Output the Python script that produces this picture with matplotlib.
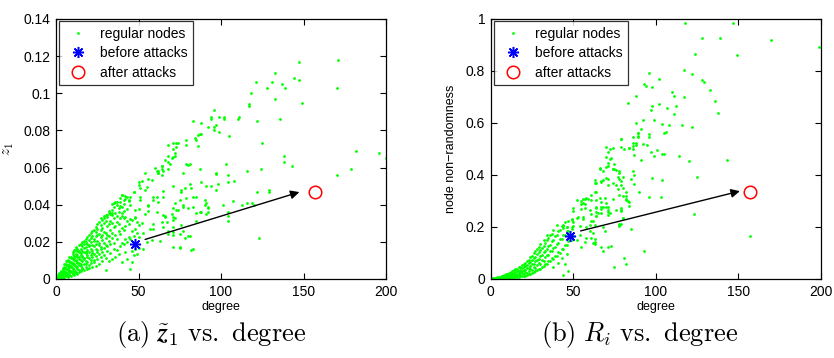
import matplotlib
matplotlib.use("Agg")
import matplotlib.pyplot as plt
from matplotlib.lines import Line2D

plt.rcParams['font.family'] = ['Liberation Sans', 'DejaVu Sans']
plt.rcParams['mathtext.fontset'] = 'cm'

# ---------------------------------------------------------------------------
# Panel (a): z~1 score of every node against its degree
# low-degree nodes, grouped by degree
z1_low_degree = {
    1: [.0002, .0009, .0012, .0021],
    2: [.0005, .0010, .0019, .0024, .0033],
    3: [.0004, .0015, .0020, .0031, .0037, .0043],
    4: [.0010, .0014, .0026, .0031, .0044, .0052, .0058],
    5: [.0008, .0021, .0027, .0040, .0044, .0059, .0063, .0081],
    6: [.0015, .0019, .0035, .0039, .0055, .0058, .0076, .0082, .0099],
    7: [.0012, .0029, .0033, .0050, .0055, .0071, .0077, .0095, .0103],
    8: [.0020, .0026, .0045, .0050, .0067, .0073, .0091, .0098, .0119],
    9: [.0017, .0037, .0043, .0062, .0068, .0088, .0093, .0113, .0121],
    10: [.0025, .0033, .0054, .0061, .0080, .0087, .0108, .0114, .0137, .0145],
    11: [.0022, .0045, .0051, .0074, .0081, .0102, .0111, .0126, .0150, .0158],
    12: [.0031, .0040, .0064, .0071, .0095, .0102, .0125, .0134, .0160, .0172],
    13: [.0027, .0053, .0062, .0086, .0094, .0117, .0127, .0151, .0163],
    14: [.0036, .0048, .0075, .0084, .0109, .0118, .0144, .0153, .0182],
    15: [.0044, .0071, .0079, .0102, .0131, .0139, .0163, .0187],
    16: [.0052, .0060, .0095, .0118, .0124, .0151, .0176, .0201],
    17: [.0048, .0083, .0107, .0112, .0146, .0168, .0191, .0205],
    18: [.0066, .0079, .0098, .0139, .0143, .0170, .0197, .0215],
    19: [.0053, .0091, .0118, .0127, .0158, .0189, .0226],
    20: [.0061, .0074, .0111, .0145, .0176, .0183, .0212, .0238],
    21: [.0087, .0104, .0129, .0163, .0199, .0221, .0247],
    22: [.0064, .0117, .0142, .0150, .0185, .0233, .0258],
    23: [.0093, .0101, .0136, .0178, .0207, .0215, .0264],
    24: [.0072, .0125, .0162, .0191, .0229, .0252, .0278],
    25: [.0108, .0147, .0154, .0203, .0238, .0271, .0294],
    26: [.0083, .0132, .0181, .0196, .0244, .0306],
    27: [.0118, .0159, .0172, .0227, .0263, .0289, .0326],
    28: [.0096, .0144, .0210, .0237, .0276, .0318],
    29: [.0127, .0168, .0193, .0254, .0301, .0337],
    30: [.0051, .0112, .0184, .0223, .0247, .0311, .0344],
    31: [.0149, .0176, .0239, .0283, .0332],
    32: [.0095, .0202, .0231, .0296, .0358, .0367],
    33: [.0138, .0189, .0264, .0313, .0349],
    34: [.0107, .0221, .0248, .0301, .0371, .0402],
    35: [.0163, .0196, .0279, .0327, .0389],
    36: [.0118, .0235, .0287, .0356],
    37: [.0154, .0213, .0308, .0341, .0417],
    38: [.0132, .0259, .0296, .0383],
    39: [.0177, .0241, .0329, .0436],
    40: [.0093, .0195, .0274, .0337, .0455],
    41: [.0187, .0262, .0364],
    42: [.0146, .0218, .0285, .0447],
    43: [.0108, .0199, .0311, .0378],
    44: [.0226, .0296, .0421],
    45: [.0056, .0213, .0325, .0396],
    46: [.0149, .0258, .0319],
    47: [.0127, .0229, .0468],
    48: [.0161, .0271, .0329],
    49: [.0135, .0247, .0308],
    50: [.0169, .0227, .0289],
}

# higher-degree nodes as (degree, z~1) pairs
z1_high_degree = [
    (147, .117), (171, .118), (133, .111), (121, .106), (144, .108), (147, .107),
    (131, .106), (137, .105), (139, .103), (128, .103), (170, .103), (118, .100),
    (133, .097), (149, .095), (117, .094), (117, .093), (136, .086), (96, .091),
    (94, .087), (94, .086), (99, .087), (102, .087), (102, .086), (110, .086),
    (111, .087), (122, .085), (83, .085), (88, .084), (92, .082), (96, .082),
    (97, .083), (87, .078), (88, .078), (96, .080), (99, .079), (105, .077),
    (85, .075), (125, .073), (74, .073), (71, .073), (68, .072), (79, .075),
    (79, .072), (71, .070), (72, .066), (70, .065), (68, .063), (182, .069),
    (196, .068), (200, .065), (138, .066), (138, .063), (79, .062), (81, .062),
    (103, .062), (143, .061), (87, .059), (116, .058), (124, .059), (179, .059),
    (170, .056), (97, .057), (104, .056), (77, .057), (62, .057), (64, .056),
    (60, .060), (61, .058), (64, .061), (64, .059), (65, .058), (66, .064),
    (68, .066), (108, .053), (104, .052), (71, .050), (88, .052), (81, .051),
    (94, .050), (91, .050), (82, .049), (76, .047), (97, .048), (122, .047),
    (129, .048), (129, .047), (116, .041), (119, .041), (120, .040), (113, .040),
    (90, .040), (91, .041), (92, .039), (92, .038), (92, .036), (91, .035),
    (104, .036), (104, .034), (104, .031), (87, .036), (88, .036), (83, .039),
    (85, .031), (77, .040), (80, .038), (71, .038), (73, .037), (70, .035),
    (72, .033), (71, .032), (71, .028), (75, .024), (80, .023), (71, .017),
    (75, .017), (83, .016), (123, .022), (76, .029), (77, .026), (68, .026),
    (68, .024), (107, .042), (101, .040), (98, .051), (97, .0565), (86, .0775),
    (86, .0716), (84, .0757), (80, .0615), (73, .0733), (73, .0712), (72, .0676),
    (71, .0658), (69, .062), (68, .0592), (64, .0606), (62, .0579), (62, .0569),
    (54, .057), (56, .0538), (58, .0533), (50, .0522), (52, .0529), (50, .0504),
    (51, .0491), (55, .0497), (54, .0477), (47, .047), (45, .0443), (42, .0429),
    (44, .0425), (43, .044), (40, .0454), (41, .0425), (39, .0416), (41, .0403),
    (40, .0386), (39, .0391), (36, .0414), (35, .0407), (37, .0398), (33, .0353),
    (31, .0344), (29, .0327), (34, .0357), (34, .0346), (38, .0362), (40, .0353),
    (42, .0335), (41, .0327), (48, .037), (48, .0335), (51, .0443), (51, .0425),
    (56, .0393), (56, .0367), (56, .0398), (50, .0375), (54, .0348), (61, .044),
    (62, .0413), (59, .044), (65, .0475), (65, .0443), (59, .0425), (61, .0362),
    (66, .0339), (71, .0335), (75, .0427), (79, .0434), (78, .0491), (76, .048),
    (72, .041), (74, .0371), (77, .0389), (83, .0443), (85, .0353),
    (58, .021), (63, .0206), (71, .0237), (71, .0255), (65, .0281), (67, .0308),
    (59, .0267), (59, .0296), (64, .0308), (66, .0335), (65, .0344), (75, .0169),
    (82, .0156), (78, .0219), (81, .0233), (85, .0443), (90, .0425),
    (52, .030), (53, .025), (55, .020), (57, .027), (53, .016), (46, .009),
]

# the attacked node, before and after the attacks
z1_before = (48, 0.019)
z1_after = (157, 0.047)

# ---------------------------------------------------------------------------
# Panel (b): node non-randomness R_i against degree
r_low_degree = {
    1: [.000, .001, .002],
    2: [.000, .001, .002, .003],
    3: [.000, .0015, .003, .0045],
    4: [.000, .002, .004, .006],
    5: [.001, .003, .005, .0075],
    6: [.001, .0035, .006, .009],
    7: [.0015, .004, .007, .010, .013],
    8: [.002, .005, .008, .0115, .015],
    9: [.0025, .006, .0095, .0135, .018],
    10: [.003, .007, .011, .0155, .021],
    11: [.0038, .0091, .0114, .0187, .0236],
    12: [.0051, .0078, .0150, .0171, .0262],
    13: [.0047, .0112, .0135, .0219, .0297],
    14: [.0068, .0097, .0183, .0241, .0332],
    15: [.0061, .0143, .0166, .0259, .0368],
    16: [.0087, .0126, .0208, .0297, .0388],
    17: [.0079, .0171, .0236, .0318, .0447],
    18: [.0113, .0158, .0284, .0352, .0471],
    19: [.0102, .0214, .0293, .0427, .0528],
    20: [.0134, .0189, .0331, .0448, .0583],
    21: [.0128, .0272, .0352, .0516, .0624],
    22: [.0166, .0241, .0413, .0539, .0697],
    23: [.0195, .0318, .0437, .0628, .0742],
    24: [.0187, .0381, .0482, .0651, .0836],
    25: [.0243, .0357, .0569, .0712, .0893],
    26: [.0261, .0451, .0588, .0803, .0982],
    27: [.0307, .0419, .0684, .0851, .1064],
    28: [.0329, .0542, .0717, .0958, .1137],
    29: [.0371, .0618, .0763, .1026, .1218],
    30: [.0398, .0587, .0894, .1102, .1332],
    31: [.0452, .0736, .0918, .1197],
    32: [.0487, .0692, .1047, .1258, .1516],
    33: [.0571, .0842, .1066, .1392],
    34: [.0563, .0917, .1139, .1486, .1684],
    35: [.0683, .0941, .1273, .1562],
    36: [.0691, .1058, .1318, .1707],
    37: [.0794, .1072, .1467, .1742],
    38: [.0452, .0772, .1206, .1513, .1893],
    39: [.0903, .1219, .1661],
    40: [.0886, .1362, .1707, .2086],
    41: [.0621, .1032, .1389, .1862],
    42: [.1017, .1523, .1898],
    43: [.0813, .1147, .1546, .2027],
    44: [.1163, .1697, .2042],
    45: [.0562, .1304, .1703, .2176],
    46: [.0951, .1318, .1846, .2003],
    47: [.0302, .1452, .1861, .2231],
    49: [.1487, .1993, .2267],
    50: [.1643, .2038],
}

r_high_degree = [
    (118, .986), (147, .983), (128, .928), (139, .928), (170, .920), (199, .891),
    (124, .865), (149, .860), (96, .794), (117, .805), (122, .787), (102, .770),
    (128, .767), (129, .756), (93, .749), (94, .742), (98, .737), (133, .726),
    (88, .705), (83, .677), (110, .718), (111, .703), (117, .701), (136, .683),
    (102, .674), (98, .667), (97, .651), (112, .664), (107, .656), (111, .636),
    (138, .638), (99, .613), (92, .612), (88, .599), (104, .595), (108, .591),
    (116, .592), (122, .585), (91, .576), (89, .563), (89, .550), (106, .567),
    (105, .563), (96, .558), (96, .546), (79, .537), (86, .545), (86, .522),
    (88, .515), (92, .519), (95, .514), (70, .507), (74, .504), (79, .508),
    (84, .503), (81, .501), (72, .500), (86, .512), (97, .488), (101, .496),
    (99, .472), (105, .479), (114, .473), (120, .455), (143, .458), (91, .458),
    (87, .477), (104, .481), (73, .467), (75, .441), (71, .435), (66, .426),
    (70, .429), (68, .414), (74, .422), (75, .424), (78, .409), (77, .391),
    (79, .378), (63, .368), (63, .333), (63, .381), (67, .372), (71, .363),
    (74, .369), (76, .360), (80, .394), (82, .336), (82, .321), (86, .417),
    (87, .401), (85, .386), (87, .364), (90, .336), (98, .388), (104, .381),
    (96, .317), (125, .391), (103, .317), (82, .304), (84, .282), (79, .263),
    (78, .212), (80, .233), (85, .194), (69, .185), (70, .294), (67, .296),
    (61, .303), (58, .310), (57, .308), (55, .299), (52, .305), (64, .278),
    (67, .278), (71, .277), (71, .258), (64, .242), (67, .255), (72, .253),
    (62, .223), (63, .206), (68, .200), (58, .201), (60, .183), (61, .159),
    (62, .140), (67, .124), (73, .126), (62, .176), (63, .154), (60, .208),
    (123, .249), (157, .167), (93, .109), (81, .082), (82, .059), (75, .047),
    (44, .014), (68, .109), (71, .122), (78, .209), (83, .300), (84, .297),
    (78, .322), (79, .264), (70, .470), (71, .487), (72, .463), (66, .423),
    (74, .423), (76, .419), (78, .417), (71, .445), (70, .387), (64, .368),
    (67, .376), (68, .380), (71, .385), (61, .323), (64, .336), (66, .310),
    (64, .303), (69, .310), (59, .309), (56, .308), (56, .294), (57, .288),
    (50, .274), (50, .262), (55, .287), (55, .268), (57, .272), (60, .265),
    (64, .272), (65, .253), (64, .258), (70, .278), (71, .264), (71, .246),
    (53, .240), (56, .237), (56, .232), (52, .236), (49, .231), (50, .218),
    (44, .206), (44, .197), (46, .200), (49, .193), (54, .204), (61, .249),
    (64, .242), (61, .224), (67, .268), (68, .276), (76, .265), (79, .272),
    (80, .233), (79, .213), (78, .204), (80, .318), (82, .308), (74, .309),
    (77, .345), (80, .351), (79, .362), (78, .383), (84, .505), (86, .501),
    (88, .522), (89, .560), (89, .547), (79, .538), (55, .122), (63, .142),
    (63, .135), (58, .156), (57, .144), (52, .150), (54, .169),
]

r_before = (48, 0.167)
r_after = (157, 0.335)

# arrow endpoints (tail, head) per panel
z1_arrow = ((54, 0.0213), (147.5, 0.0468))
r_arrow = ((54.5, 0.185), (151, 0.338))

x_ticks = [0, 50, 100, 150, 200]
z1_ticks = [0, 0.02, 0.04, 0.06, 0.08, 0.1, 0.12, 0.14]
z1_tick_labels = ['0', '0.02', '0.04', '0.06', '0.08', '0.1', '0.12', '0.14']
r_ticks = [0, 0.2, 0.4, 0.6, 0.8, 1]
r_tick_labels = ['0', '0.2', '0.4', '0.6', '0.8', '1']

legend_labels = ['regular nodes', 'before attacks', 'after attacks']

GREEN = '#00ff00'


def flatten(low, high):
    xs, ys = [], []
    for d, vals in low.items():
        for v in vals:
            xs.append(d)
            ys.append(v)
    for d, v in high:
        xs.append(d)
        ys.append(v)
    return xs, ys


def draw_panel(ax, low, high, before, after, arrow, yticks, yticklabels, ymax):
    xs, ys = flatten(low, high)
    ax.plot(xs, ys, linestyle='none', marker='o', markersize=2.0,
            markeredgewidth=0, color=GREEN, zorder=2)
    ax.plot([before[0]], [before[1]], linestyle='none', marker=(8, 2, 0),
            markersize=8, markeredgewidth=1.1, color='#0000ff', zorder=4)
    ax.plot([after[0]], [after[1]], linestyle='none', marker='o',
            markersize=9, markerfacecolor='none', markeredgewidth=1.1,
            markeredgecolor='#ff0000', zorder=4)
    ax.annotate('', xy=arrow[1], xytext=arrow[0],
                arrowprops=dict(arrowstyle='-|>', color='black', lw=1.0,
                                mutation_scale=13, shrinkA=0, shrinkB=0),
                zorder=5)
    ax.set_xlim(0, 200)
    ax.set_ylim(0, ymax)
    ax.set_xticks(x_ticks)
    ax.set_xticklabels([str(t) for t in x_ticks])
    ax.set_yticks(yticks)
    ax.set_yticklabels(yticklabels)
    ax.tick_params(direction='in', top=True, right=True, length=4, width=0.8,
                   labelsize=10, pad=4, colors='black')
    for s in ax.spines.values():
        s.set_linewidth(0.9)
        s.set_color('black')
    ax.set_xlabel('degree', fontsize=9, labelpad=2)

    handles = [
        Line2D([], [], linestyle='none', marker='o', markersize=2.0,
               markeredgewidth=0, color=GREEN),
        Line2D([], [], linestyle='none', marker=(8, 2, 0), markersize=8,
               markeredgewidth=1.1, color='#0000ff'),
        Line2D([], [], linestyle='none', marker='o', markersize=9,
               markerfacecolor='none', markeredgewidth=1.1,
               markeredgecolor='#ff0000'),
    ]
    leg = ax.legend(handles, legend_labels, loc='upper left',
                    bbox_to_anchor=(0.009, 0.992), borderaxespad=0,
                    fontsize=10, frameon=True, fancybox=False, shadow=False,
                    handlelength=2.0, handletextpad=0.55, labelspacing=0.4,
                    borderpad=0.4)
    leg.get_frame().set_edgecolor('black')
    leg.get_frame().set_linewidth(0.9)


fig = plt.figure(figsize=(8.34, 3.58), dpi=100)
ax1 = fig.add_axes([56 / 834, 79 / 358, 330 / 834, 260 / 358])
ax2 = fig.add_axes([490.7 / 834, 79 / 358, 330 / 834, 260 / 358])

draw_panel(ax1, z1_low_degree, z1_high_degree, z1_before, z1_after, z1_arrow,
           z1_ticks, z1_tick_labels, 0.14)
ax1.set_ylabel(r'$\tilde{z}_1$', fontsize=11, labelpad=5)

draw_panel(ax2, r_low_degree, r_high_degree, r_before, r_after, r_arrow,
           r_ticks, r_tick_labels, 1.0)
ax2.set_ylabel('node non\u2212randomness', fontsize=9, labelpad=6)

fig.text(211 / 834, 1 - 335 / 358,
         r'$\mathrm{(a)}\ \tilde{\boldsymbol{z}}_1\ \mathrm{vs.\ degree}$',
         ha='center', va='center', fontsize=19)
fig.text(640 / 834, 1 - 335 / 358, r'$\mathrm{(b)}\ R_i\ \mathrm{vs.\ degree}$',
         ha='center', va='center', fontsize=19)

fig.savefig('out.png', dpi=100)
